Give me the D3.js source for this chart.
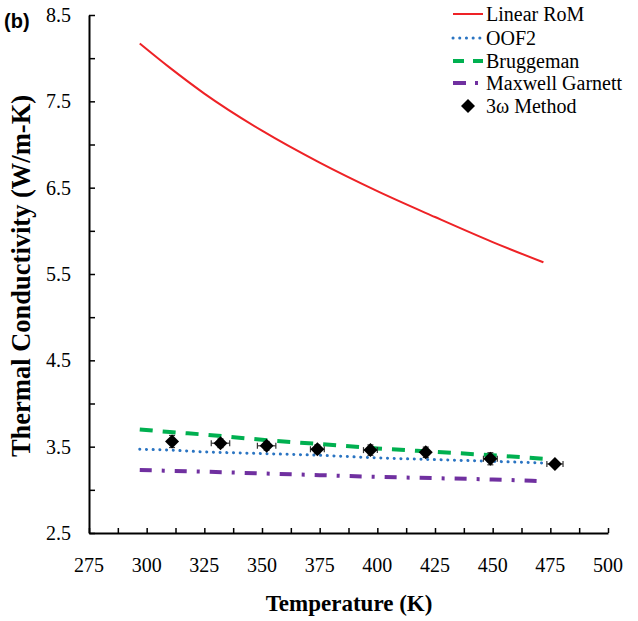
<!DOCTYPE html>
<html>
<head>
<meta charset="utf-8">
<script src="https://cdn.jsdelivr.net/npm/d3@7"></script>
<style>
  html, body { margin: 0; padding: 0; background: #fff; }
  svg { display: block; }
</style>
</head>
<body>
<script>
// Model curves: temperature (K) and thermal conductivity (W/m-K)
const modelTemps = [297, 310, 325, 350, 375, 400, 425, 450, 472];
const linearRoM  = [8.17, 7.89, 7.59, 7.16, 6.79, 6.46, 6.16, 5.87, 5.635];
const oof2       = [3.47, 3.46, 3.44, 3.42, 3.40, 3.37, 3.35, 3.33, 3.31];
const bruggeman  = [3.70, 3.67, 3.64, 3.58, 3.53, 3.48, 3.44, 3.40, 3.36];
const maxwellGarnett = [3.23, 3.22, 3.21, 3.19, 3.17, 3.15, 3.135, 3.12, 3.10];

// 3ω measurements with error bars
const measTemps = [311, 332, 352, 374, 397, 421, 449, 477];
const measK     = [3.56, 3.54, 3.51, 3.47, 3.46, 3.435, 3.36, 3.30];
const measTErr  = [0.5, 4, 4, 3, 3, 1, 3, 3.5];
const measKErr  = [0.07, 0.05, 0.05, 0.05, 0.06, 0.06, 0.07, 0.03];

const xTickValues = [275, 300, 325, 350, 375, 400, 425, 450, 475, 500];
const yTickValues = [2.5, 3.5, 4.5, 5.5, 6.5, 7.5, 8.5];

const legendLabels = ["Linear RoM", "OOF2", "Bruggeman", "Maxwell Garnett", "3\u03c9 Method"];

const W = 638, H = 621;
const svg = d3.select("body").append("svg").attr("width", W).attr("height", H);

const x = d3.scaleLinear().domain([275, 500]).range([89, 608]);
const y = d3.scaleLinear().domain([2.5, 8.5]).range([533, 15]);

const serif = "'Liberation Serif', 'Times New Roman', serif";

const styles = [
  { values: linearRoM, color: "#ee2226", width: 2, dash: null, cap: "butt" },
  { values: oof2, color: "#2a74c2", width: 3, dash: "0.1 6.6", cap: "round" },
  { values: bruggeman, color: "#00b050", width: 4, dash: "13 10", cap: "butt" },
  { values: maxwellGarnett, color: "#7030a0", width: 4, dash: "12 10 3 10", cap: "butt" }
];

const line = d3.line().x(d => x(d[0])).y(d => y(d[1])).curve(d3.curveMonotoneX);

styles.forEach(s => {
  svg.append("path")
    .datum(modelTemps.map((t, i) => [t, s.values[i]]))
    .attr("d", line)
    .attr("fill", "none")
    .attr("stroke", s.color)
    .attr("stroke-width", s.width)
    .attr("stroke-linecap", s.cap)
    .attr("stroke-dasharray", s.dash);
});

// Error bars
const meas = measTemps.map((t, i) => ({ t, k: measK[i], dt: measTErr[i], dk: measKErr[i] }));
const eb = svg.append("g").attr("stroke", "#333").attr("stroke-width", 1.2);
meas.forEach(d => {
  const cx = x(d.t), cy = y(d.k);
  eb.append("line").attr("x1", cx).attr("x2", cx).attr("y1", y(d.k - d.dk)).attr("y2", y(d.k + d.dk));
  eb.append("line").attr("x1", cx - 3).attr("x2", cx + 3).attr("y1", y(d.k - d.dk)).attr("y2", y(d.k - d.dk));
  eb.append("line").attr("x1", cx - 3).attr("x2", cx + 3).attr("y1", y(d.k + d.dk)).attr("y2", y(d.k + d.dk));
  eb.append("line").attr("x1", x(d.t - d.dt)).attr("x2", x(d.t + d.dt)).attr("y1", cy).attr("y2", cy);
  eb.append("line").attr("x1", x(d.t - d.dt)).attr("x2", x(d.t - d.dt)).attr("y1", cy - 3).attr("y2", cy + 3);
  eb.append("line").attr("x1", x(d.t + d.dt)).attr("x2", x(d.t + d.dt)).attr("y1", cy - 3).attr("y2", cy + 3);
});

const diamond = d3.symbol().type(d3.symbolDiamond2).size(125);
svg.append("g").selectAll("path").data(meas).join("path")
  .attr("d", diamond)
  .attr("transform", d => `translate(${x(d.t)},${y(d.k)})`)
  .attr("fill", "#000");

// Axes: ticks point into the plot
const xAxis = d3.axisBottom(x).tickValues(d3.range(275, 500.1, 12.5)).tickSizeInner(-5).tickSizeOuter(0).tickFormat("");
const gx = svg.append("g").attr("transform", `translate(0,${y(2.5)})`).call(xAxis);
gx.select(".domain").attr("stroke", "#000").attr("stroke-width", 2);
gx.selectAll(".tick line").attr("stroke", "#000").attr("stroke-width", 1.5);

const yAxis = d3.axisLeft(y).tickValues(d3.range(2.5, 8.51, 0.5)).tickSizeInner(-6).tickSizeOuter(0).tickFormat("");
const gy = svg.append("g").attr("transform", `translate(${x(275)},0)`).call(yAxis);
gy.select(".domain").attr("stroke", "#000").attr("stroke-width", 2);
gy.selectAll(".tick line").attr("stroke", "#000").attr("stroke-width", 1.5);

// Tick labels
svg.append("g").selectAll("text").data(xTickValues).join("text")
  .attr("x", d => x(d)).attr("y", 572)
  .attr("text-anchor", "middle")
  .attr("font-family", serif).attr("font-size", 20)
  .text(d => d);

svg.append("g").selectAll("text").data(yTickValues).join("text")
  .attr("x", 71).attr("y", d => y(d) + 7)
  .attr("text-anchor", "end")
  .attr("font-family", serif).attr("font-size", 20)
  .text(d => d3.format(".1f")(d));

// Axis titles
svg.append("text")
  .attr("x", 349).attr("y", 611)
  .attr("text-anchor", "middle")
  .attr("font-family", serif).attr("font-size", 23).attr("font-weight", "bold")
  .text("Temperature (K)");

svg.append("text")
  .attr("transform", "translate(30,276) rotate(-90)")
  .attr("text-anchor", "middle")
  .attr("font-family", serif).attr("font-size", 26.5).attr("font-weight", "bold")
  .text("Thermal Conductivity (W/m-K)");

// Panel label
svg.append("text")
  .attr("x", 4).attr("y", 28)
  .attr("font-family", "'Liberation Sans', Arial, sans-serif").attr("font-size", 20).attr("font-weight", "bold")
  .text("(b)");

// Legend
const legY = [14, 38, 61, 83, 106];
const leg = svg.append("g");
styles.forEach((s, i) => {
  leg.append("line")
    .attr("x1", 453).attr("x2", 483).attr("y1", legY[i]).attr("y2", legY[i])
    .attr("stroke", s.color).attr("stroke-width", s.width)
    .attr("stroke-linecap", s.cap)
    .attr("stroke-dasharray", i === 2 ? "11 9" : i === 3 ? "13 9 3 10" : s.dash);
});
leg.append("path")
  .attr("d", diamond)
  .attr("transform", `translate(468,${legY[4]})`)
  .attr("fill", "#000");
leg.selectAll("text").data(legendLabels).join("text")
  .attr("x", 486).attr("y", (d, i) => legY[i] + 7)
  .attr("font-family", serif).attr("font-size", 20)
  .text(d => d);
</script>
</body>
</html>
